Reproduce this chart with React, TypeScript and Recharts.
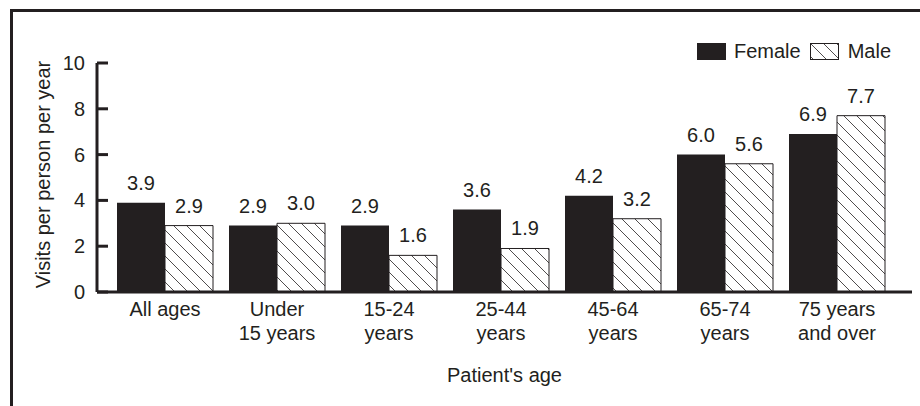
import React from "react";
import { BarChart, Bar, XAxis, YAxis, LabelList } from "recharts";

const categories = ["All ages", "Under\n15 years", "15-24\nyears", "25-44\nyears", "45-64\nyears", "65-74\nyears", "75 years\nand over"];
const female = [3.9, 2.9, 2.9, 3.6, 4.2, 6.0, 6.9];
const male = [2.9, 3.0, 1.6, 1.9, 3.2, 5.6, 7.7];
const yTicks = [0, 2, 4, 6, 8, 10];

const data = categories.map((c, i) => ({ name: c, female: female[i], male: male[i] }));

const INK = "#231f20";
const FONT = "'Liberation Sans', Arial, Helvetica, sans-serif";
const FS = 20;

const YTick = (props: any) => {
  const { x, y, payload } = props;
  return (
    <g>
      <line x1={x + 12} x2={x + 23} y1={y} y2={y} stroke={INK} strokeWidth={3} />
      <text x={x} y={y} dy={7} textAnchor="end" fill={INK} fontSize={FS} fontFamily={FONT}>
        {payload.value}
      </text>
    </g>
  );
};

const XTick = (props: any) => {
  const { x, y, payload } = props;
  const lines = String(payload.value).split("\n");
  return (
    <text x={x} y={y} textAnchor="middle" fill={INK} fontSize={FS} fontFamily={FONT}>
      {lines.map((l, i) => (
        <tspan key={i} x={x} y={y + 24 + i * 24}>
          {l}
        </tspan>
      ))}
    </text>
  );
};

const Hatch = ({ id }: { id: string }) => (
  <pattern id={id} patternUnits="userSpaceOnUse" width={13} height={13}>
    <rect width={13} height={13} fill="#fff" />
    <path d="M0,0 L13,13 M-2,11 L2,15 M11,-2 L15,2" stroke={INK} strokeWidth={0.8} />
  </pattern>
);

export default function App() {
  return (
    <div style={{ position: "fixed", left: 0, top: 0, width: 920, height: 406, background: "#fff", overflow: "hidden" }}>
      <div
        style={{
          position: "absolute",
          left: 10,
          top: 9,
          width: 940,
          height: 440,
          borderLeft: `3px solid ${INK}`,
          borderTop: `3px solid ${INK}`,
        }}
      />
      <div style={{ position: "absolute", left: 0, top: 0 }}>
        <BarChart
          width={920}
          height={406}
          data={data}
          margin={{ top: 63, right: 8, left: 0, bottom: 24 }}
          barGap={0}
          barCategoryGap={8}
        >
          <defs>
            <Hatch id="hatchMale" />
          </defs>
          <XAxis
            dataKey="name"
            height={90}
            padding={{ left: 12, right: 19 }}
            axisLine={{ stroke: INK, strokeWidth: 3 }}
            tickLine={false}
            tickSize={0}
            tickMargin={0}
            interval={0}
            tick={<XTick />}
            label={{ value: "Patient's age", position: "insideBottom", offset: 0, fill: INK, fontSize: FS, fontFamily: FONT }}
          />
          <YAxis
            width={97}
            domain={[0, 10]}
            ticks={yTicks}
            interval={0}
            axisLine={{ stroke: INK, strokeWidth: 3 }}
            tickLine={false}
            tickSize={0}
            tickMargin={12}
            tick={<YTick />}
            label={{ value: "Visits per person per year", angle: -90, position: "center", dx: -6, dy: -3, fill: INK, fontSize: FS, fontFamily: FONT }}
          />
          <Bar dataKey="female" fill={INK} barSize={48} isAnimationActive={false}>
            <LabelList
              dataKey="female"
              position="top"
              offset={13}
              formatter={(v: any) => Number(v).toFixed(1)}
              fill={INK}
              fontSize={FS}
              fontFamily={FONT}
            />
          </Bar>
          <Bar dataKey="male" fill="url(#hatchMale)" stroke={INK} strokeWidth={1} barSize={48} isAnimationActive={false}>
            <LabelList
              dataKey="male"
              position="top"
              offset={13}
              formatter={(v: any) => Number(v).toFixed(1)}
              fill={INK}
              fontSize={FS}
              fontFamily={FONT}
            />
          </Bar>
        </BarChart>
      </div>
      <div
        style={{
          position: "absolute",
          left: 697,
          top: 41,
          display: "flex",
          alignItems: "center",
          fontFamily: FONT,
          fontSize: FS,
          color: INK,
          lineHeight: "20px",
        }}
      >
        <div style={{ width: 29, height: 17, background: INK }} />
        <span style={{ marginLeft: 8 }}>Female</span>
        <svg width={29} height={17} style={{ marginLeft: 9 }}>
          <defs>
            <Hatch id="hatchLegend" />
          </defs>
          <rect x={0.5} y={0.5} width={28} height={16} fill="url(#hatchLegend)" stroke={INK} strokeWidth={1} />
        </svg>
        <span style={{ marginLeft: 9 }}>Male</span>
      </div>
    </div>
  );
}
